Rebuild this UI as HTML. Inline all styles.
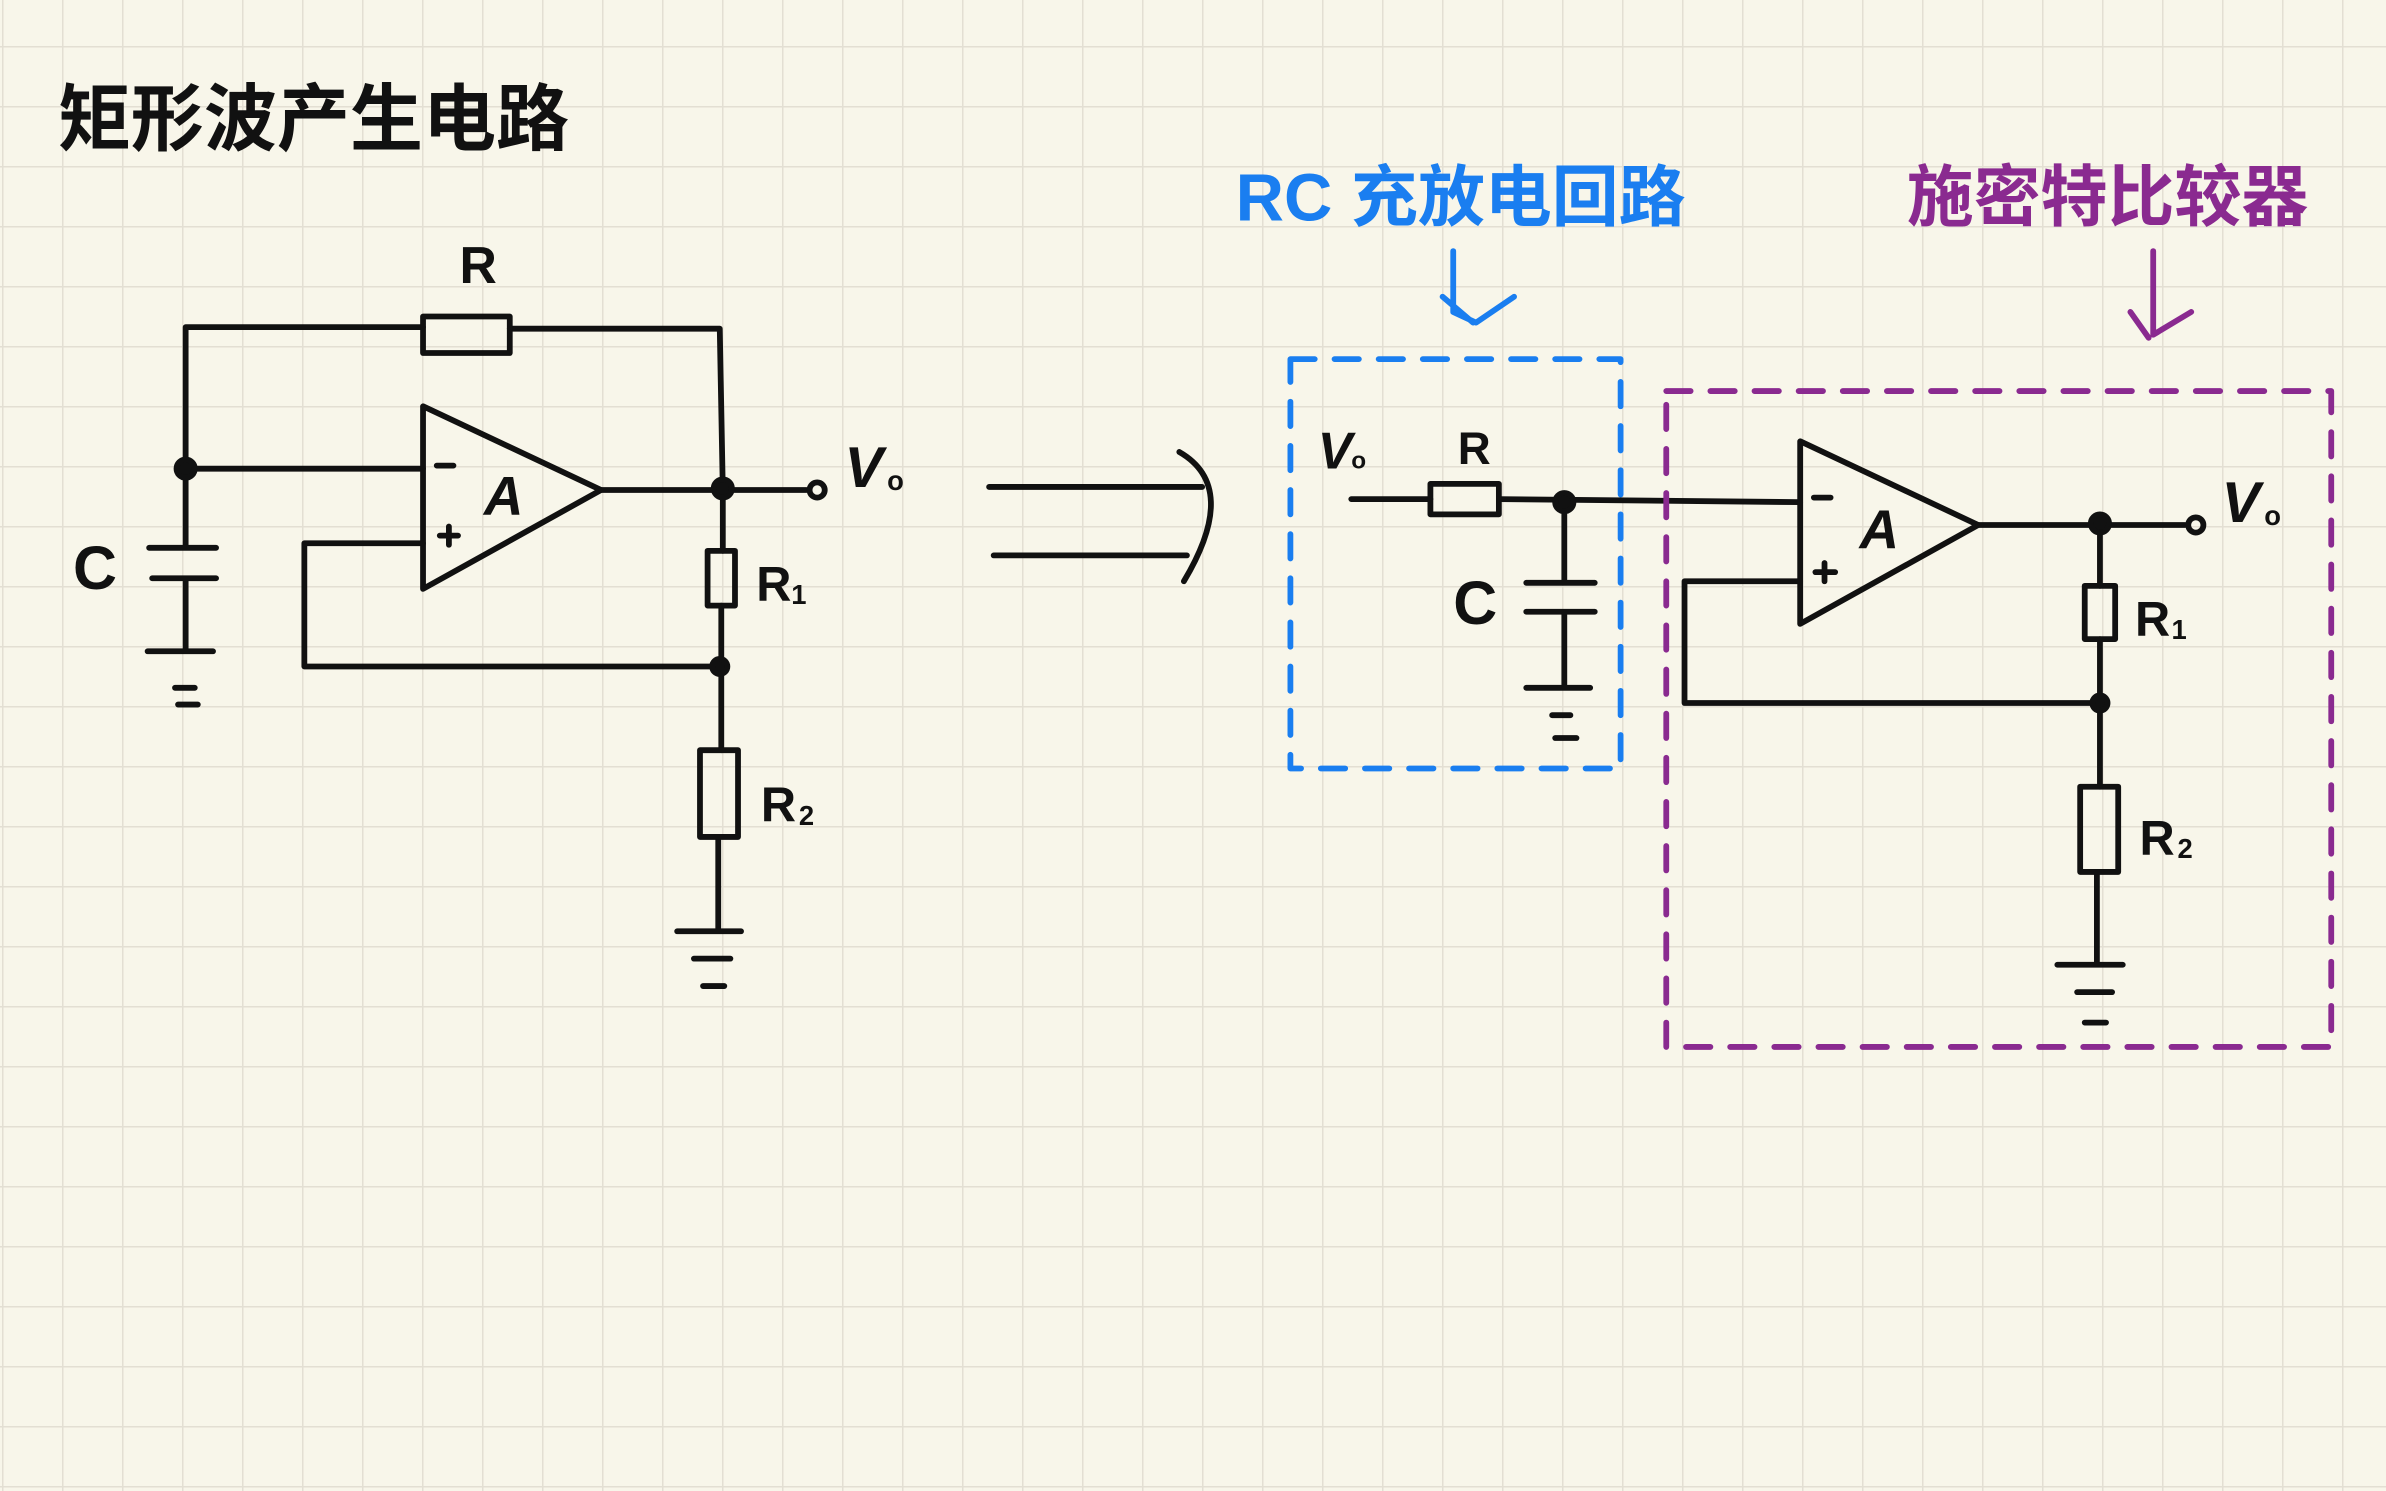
<!DOCTYPE html>
<html><head><meta charset="utf-8"><style>
html,body{margin:0;padding:0;background:#f8f6ea;}
svg{display:block}
text{font-family:"Liberation Sans","Noto Sans CJK SC",sans-serif;font-weight:bold}
</style></head><body>
<svg width="2386" height="1491" viewBox="0 0 2386 1491" xmlns="http://www.w3.org/2000/svg">
<defs><pattern id="g" x="2" y="46" width="60" height="60" patternUnits="userSpaceOnUse">
<path d="M0 0H60M0 0V60" stroke="#e3dfd3" stroke-width="3" fill="none"/></pattern></defs>
<rect width="2386" height="1491" fill="#f8f6ea"/>
<rect width="2386" height="1491" fill="url(#g)"/>
<g transform="scale(1.5217)" stroke="#111" stroke-width="3.8" fill="none" stroke-linecap="round" stroke-linejoin="round">
<text x="38" y="95" font-size="48" fill="#111" stroke="none">矩形波产生电路</text>
<!-- left circuit -->
<text x="302" y="186" font-size="34" fill="#111" stroke="none">R</text>
<path d="M122 310V215H278M335 216H473L475 322"/>
<rect x="278" y="208" width="57" height="24"/>
<path d="M122 308H278"/>
<path d="M122 308V360M98 360H142M100 380H142M122 380V428M97 428H140M115 452H128M117 463H130"/>
<polygon points="278,267 278,387 395,322"/>
<path d="M287 306H298M289 352H301M295 346V358"/>
<text x="318" y="338" font-size="36" fill="#111" stroke="none" font-style="italic">A</text>
<path d="M395 322H530"/>
<circle cx="537" cy="322" r="5"/>
<text x="555" y="320" font-size="38" fill="#111" stroke="none" font-style="italic">V</text>
<text x="583" y="322" font-size="18" fill="#111" stroke="none">o</text>
<path d="M278 357H200V438H473"/>
<path d="M475 322V362M474 398V493M472 550V610M445 612H487M456 630H480M462 648H476"/>
<rect x="465" y="362" width="18" height="36"/>
<rect x="460" y="493" width="25" height="57"/>
<text x="497" y="395" font-size="32" fill="#111" stroke="none">R</text><text x="520" y="397" font-size="18" fill="#111" stroke="none">1</text>
<text x="500" y="540" font-size="32" fill="#111" stroke="none">R</text><text x="525" y="542" font-size="18" fill="#111" stroke="none">2</text>
<text x="48" y="387" font-size="40" fill="#111" stroke="none" font-weight="normal">C</text>
<circle cx="122" cy="308" r="6" fill="#111"/><circle cx="475" cy="321" r="6" fill="#111"/><circle cx="473" cy="438" r="5" fill="#111"/>
<!-- arrow -->
<path d="M650 320H790M653 365H780M775 297Q815 320 778 382"/>
<!-- blue -->
<text x="812" y="145" font-size="44" fill="#1a7ef0" stroke="none">RC 充放电回路</text>
<path d="M955 165V205L970 212 995 195M948 195L968 212" stroke="#1a7ef0"/>
<rect x="848" y="236" width="217" height="269" stroke="#1a7ef0" stroke-dasharray="16 13"/>
<text x="866" y="308" font-size="34" fill="#111" stroke="none" font-style="italic">V</text><text x="888" y="308" font-size="16" fill="#111" stroke="none">o</text>
<text x="958" y="305" font-size="30" fill="#111" stroke="none">R</text>
<path d="M888 328H940M985 328L1183 330"/>
<rect x="940" y="318" width="45" height="20"/>
<path d="M1028 330V383M1003 383H1048M1003 402H1048M1028 402V450M1003 452H1045M1020 470H1032M1022 485H1036"/>
<circle cx="1028" cy="330" r="6" fill="#111"/>
<text x="955" y="410" font-size="40" fill="#111" stroke="none" font-weight="normal">C</text>
<!-- purple -->
<text x="1253" y="145" font-size="44" fill="#8a2a90" stroke="none">施密特比较器</text>
<path d="M1415 165V220L1440 205M1400 205L1412 222" stroke="#8a2a90"/>
<rect x="1095" y="257" width="437" height="431" stroke="#8a2a90" stroke-dasharray="16 13"/>
<polygon points="1183,290 1183,410 1300,345"/>
<path d="M1192 327H1203M1193 376H1206M1199 370V382"/>
<text x="1222" y="360" font-size="36" fill="#111" stroke="none" font-style="italic">A</text>
<path d="M1300 345H1436"/>
<circle cx="1443" cy="345" r="5"/>
<text x="1460" y="343" font-size="38" fill="#111" stroke="none" font-style="italic">V</text><text x="1488" y="345" font-size="18" fill="#111" stroke="none">o</text>
<path d="M1183 382H1107V462H1380"/>
<path d="M1380 345V385M1380 420V517M1378 573V632M1352 634H1395M1365 652H1388M1370 672H1384"/>
<rect x="1370" y="385" width="20" height="35"/>
<rect x="1367" y="517" width="25" height="56"/>
<text x="1403" y="418" font-size="32" fill="#111" stroke="none">R</text><text x="1427" y="420" font-size="18" fill="#111" stroke="none">1</text>
<text x="1406" y="562" font-size="32" fill="#111" stroke="none">R</text><text x="1431" y="564" font-size="18" fill="#111" stroke="none">2</text>
<circle cx="1380" cy="344" r="6" fill="#111"/><circle cx="1380" cy="462" r="5" fill="#111"/>
</g>
</svg>
</body></html>
